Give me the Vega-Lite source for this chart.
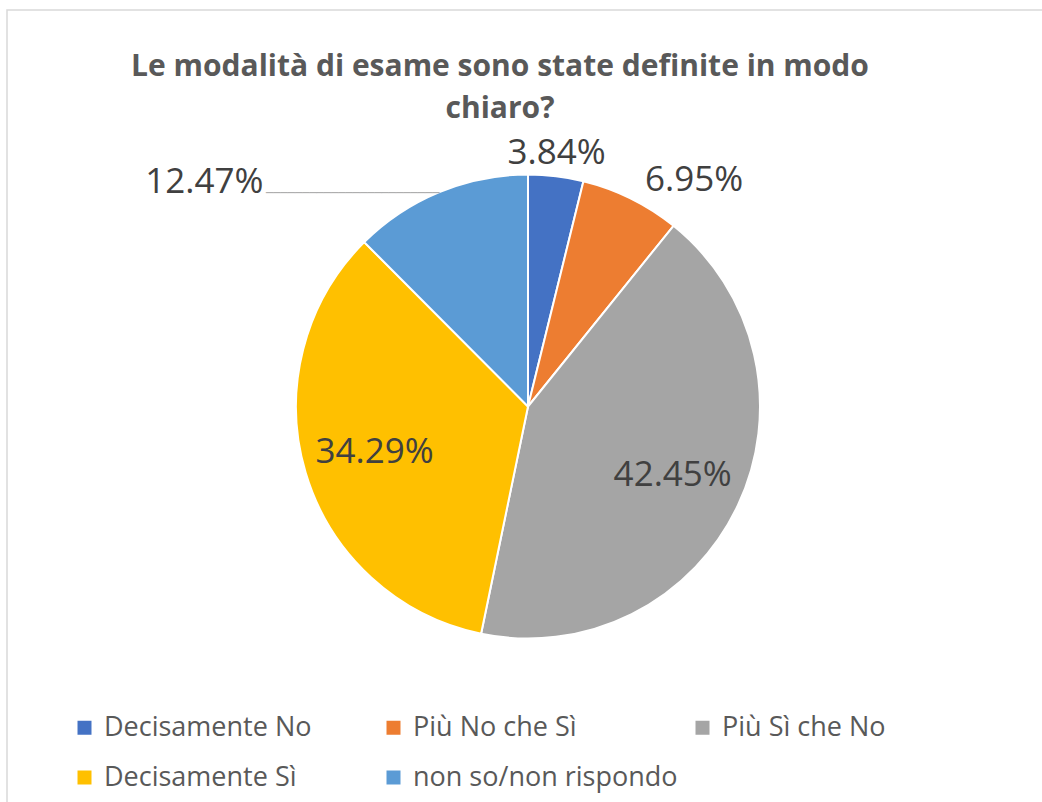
{
  "$schema": "https://vega.github.io/schema/vega-lite/v6.json",
  "width": 1042,
  "height": 793,
  "autosize": "none",
  "padding": {"left": 7, "top": 10, "right": -7, "bottom": -1},
  "background": "white",
  "view": {"stroke": "#d9d9d9", "strokeWidth": 1.5, "fill": null},
  "title": {
    "text": ["Le modalità di esame sono state definite in modo", "chiaro?"],
    "font": "Open Sans",
    "fontWeight": "bold",
    "fontSize": 30,
    "color": "#595959",
    "anchor": "middle",
    "lineHeight": 42,
    "offset": -114,
    "dx": -28
  },
  "data": {
    "values": [
      {"cat": "Decisamente No", "share": 0.0384, "ord": 1},
      {"cat": "Più No che Sì", "share": 0.0695, "ord": 2},
      {"cat": "Più Sì che No", "share": 0.4245, "ord": 3},
      {"cat": "Decisamente Sì", "share": 0.3429, "ord": 4},
      {"cat": "non so/non rispondo", "share": 0.1247, "ord": 5}
    ]
  },
  "encoding": {
    "theta": {"field": "share", "type": "quantitative", "stack": true},
    "order": {"field": "ord", "type": "quantitative"}
  },
  "layer": [
    {
      "mark": {"type": "arc", "outerRadius": 232, "stroke": "white", "strokeWidth": 2},
      "encoding": {
        "color": {
          "field": "cat",
          "type": "nominal",
          "scale": {
            "domain": ["Decisamente No", "Più No che Sì", "Più Sì che No", "Decisamente Sì", "non so/non rispondo"],
            "range": ["#4472C4", "#ED7D31", "#A5A5A5", "#FFC000", "#5B9BD5"]
          },
          "legend": {
            "orient": "none",
            "legendX": 64,
            "legendY": 704,
            "direction": "horizontal",
            "columns": 3,
            "title": null,
            "padding": 0,
            "symbolType": "square",
            "symbolSize": 196,
            "symbolStrokeWidth": 0,
            "labelFont": "Open Sans",
            "labelFontSize": 27,
            "labelColor": "#595959",
            "labelOffset": 6,
            "labelLimit": 500,
            "columnPadding": 11,
            "rowPadding": 22,
            "gridAlign": "all"
          }
        }
      }
    },
    {
      "mark": {"type": "text", "radius": 160, "font": "Open Sans", "fontSize": 35, "color": "#404040"},
      "encoding": {
        "detail": {"field": "cat", "type": "nominal"},
        "text": {"condition": {"test": "datum.share > 0.3", "field": "share", "type": "quantitative", "format": ".2%"}, "value": ""}
      }
    },
    {
      "mark": {"type": "text", "radius": 255, "dx": -2, "font": "Open Sans", "fontSize": 35, "color": "#404040"},
      "encoding": {
        "detail": {"field": "cat", "type": "nominal"},
        "text": {"condition": {"test": "datum.cat === 'Decisamente No'", "field": "share", "type": "quantitative", "format": ".2%"}, "value": ""}
      }
    },
    {
      "mark": {"type": "text", "radius": 255, "dx": 53, "dy": 2, "font": "Open Sans", "fontSize": 35, "color": "#404040"},
      "encoding": {
        "detail": {"field": "cat", "type": "nominal"},
        "text": {"condition": {"test": "datum.cat === 'Più No che Sì'", "field": "share", "type": "quantitative", "format": ".2%"}, "value": ""}
      }
    },
    {
      "mark": {"type": "text", "radius": 232, "dx": -176, "dy": 1, "align": "right", "baseline": "alphabetic", "font": "Open Sans", "fontSize": 35, "color": "#404040"},
      "encoding": {
        "detail": {"field": "cat", "type": "nominal"},
        "text": {"condition": {"test": "datum.cat === 'non so/non rispondo'", "field": "share", "type": "quantitative", "format": ".2%"}, "value": ""}
      }
    },
    {
      "mark": {"type": "text", "radius": 232, "dy": 1, "align": "right", "baseline": "middle", "font": "DejaVu Sans Mono", "fontSize": 12, "color": "#a6a6a6"},
      "encoding": {
        "detail": {"field": "cat", "type": "nominal"},
        "text": {"condition": {"test": "datum.cat === 'non so/non rispondo'", "value": "────────────────────────"}, "value": ""}
      }
    }
  ]
}
